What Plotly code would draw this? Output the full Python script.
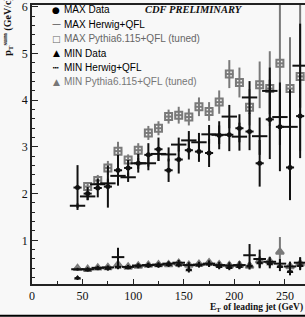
import plotly.graph_objects as go

et = [45, 55, 65, 75, 85, 95, 105, 115, 125, 135, 145, 155, 165, 175, 185, 195, 205, 215, 225, 235, 245, 255, 265]

max_data = [2.13, 2.00, 2.12, 2.15, 2.50, 2.55, 2.65, 2.83, 2.95, 2.50, 2.73, 2.93, 2.90, 2.87, 3.25, 3.26, 3.40, 3.33, 2.65, 3.59, 3.43, 2.56, 3.66]
max_data_err = [0.48, 0.14, 0.20, 0.45, 0.33, 0.17, 0.20, 0.25, 0.25, 0.25, 0.30, 0.20, 0.22, 0.30, 0.30, 0.35, 0.30, 0.40, 0.50, 0.85, 0.95, 0.70, 0.90]

max_herwig = [1.74, 1.94, 2.20, 2.22, 2.38, 2.35, 2.65, 2.65, 2.85, 2.84, 3.05, 3.14, 3.10, 3.27, 3.26, 3.65, 3.22, 4.06, 3.23, 4.20, 3.64, 3.43, 4.74]
max_herwig_err = [0.05, 0.08, 0.10, 0.10, 0.10, 0.10, 0.12, 0.15, 0.15, 0.15, 0.15, 0.20, 0.20, 0.20, 0.20, 0.25, 0.30, 0.35, 0.40, 0.50, 0.60, 0.80, 0.90]

max_pythia = [None, 2.15, 2.28, 2.55, 2.91, 2.72, 2.93, 3.30, 3.40, 3.65, 3.68, 3.64, 3.86, 3.76, 3.96, 4.56, 4.38, 3.85, 4.33, 4.25, 4.79, 4.25, 4.51]
max_pythia_err = [0, 0.08, 0.12, 0.15, 0.20, 0.12, 0.15, 0.15, 0.15, 0.15, 0.18, 0.18, 0.20, 0.20, 0.25, 0.30, 0.32, 0.39, 0.50, 0.80, 1.45, 1.10, 1.60]

min_data = [0.19, 0.37, 0.40, 0.40, 0.43, 0.42, 0.45, 0.46, 0.46, 0.48, 0.47, 0.37, 0.47, 0.49, 0.44, 0.42, 0.44, 0.45, 0.52, 0.50, 0.44, 0.33, 0.46]
min_data_err = [0.04, 0.04, 0.04, 0.05, 0.05, 0.04, 0.05, 0.05, 0.05, 0.05, 0.05, 0.06, 0.05, 0.06, 0.06, 0.06, 0.06, 0.07, 0.10, 0.10, 0.10, 0.08, 0.10]

min_herwig = [0.38, 0.38, 0.41, 0.42, 0.64, 0.43, 0.46, 0.47, 0.48, 0.50, 0.52, 0.47, 0.48, 0.50, 0.47, 0.46, 0.47, 0.68, 0.60, 0.54, 0.50, 0.44, 0.52]
min_herwig_err = [0.03, 0.03, 0.03, 0.04, 0.20, 0.04, 0.04, 0.05, 0.05, 0.05, 0.06, 0.06, 0.06, 0.07, 0.07, 0.07, 0.08, 0.24, 0.20, 0.10, 0.10, 0.10, 0.12]

min_pythia = [0.40, 0.38, 0.41, 0.42, 0.48, 0.43, 0.45, 0.47, 0.48, 0.48, 0.51, 0.47, 0.49, 0.52, 0.48, 0.46, 0.47, 0.45, 0.56, 0.55, 0.75, 0.44, 0.50]
min_pythia_err = [0.03, 0.03, 0.03, 0.03, 0.04, 0.04, 0.04, 0.04, 0.05, 0.05, 0.05, 0.05, 0.05, 0.06, 0.06, 0.06, 0.07, 0.08, 0.10, 0.10, 0.32, 0.10, 0.12]

legend_labels = ["MAX Data", "MAX Herwig+QFL", "MAX Pythia6.115+QFL (tuned)",
                 "MIN Data", "MIN Herwig+QFL", "MIN Pythia6.115+QFL (tuned)"]
legend_symbols = ["●", "—", "□", "▲", "┅", "▲"]
legend_colors = ["#000000", "#000000", "#666666", "#000000", "#000000", "#777777"]

BLACK = "#111111"
GRAY = "#7a7a7a"

fig = go.Figure()


def add(y, err, color, symbol, size, lw, xerr):
    fig.add_trace(go.Scatter(
        x=et, y=y, mode="markers",
        marker=dict(symbol=symbol, size=size, color=color,
                    line=dict(color=color, width=lw)),
        error_y=dict(type="data", array=err, color=color, thickness=2, width=0),
        error_x=dict(type="constant", value=xerr, color=color, thickness=2, width=0),
        showlegend=False, cliponaxis=True))


# Pythia (gray) first, then Herwig, then data on top
add(max_pythia, max_pythia_err, GRAY, "square-open", 7, 2, 4)
add(min_pythia, min_pythia_err, GRAY, "triangle-up-open", 7, 2, 3)
add(max_herwig, max_herwig_err, BLACK, "line-ew", 11, 2, 0)
add(min_herwig, min_herwig_err, BLACK, "line-ew", 9, 2, 0)
add(max_data, max_data_err, BLACK, "circle", 5, 0, 4)
add(min_data, min_data_err, BLACK, "triangle-up", 6, 0, 3)

L, T, PW, PH = 32, 3, 273, 281


def px(xp):
    return (xp - L) / PW


def py(yp):
    return (T + PH - yp) / PH


annotations = []
for i, (lab, sym, col) in enumerate(zip(legend_labels, legend_symbols, legend_colors)):
    yp = 8 + i * 14.5
    annotations.append(dict(x=px(56), y=py(yp), xref="paper", yref="paper",
                            text=sym, showarrow=False, xanchor="center", yanchor="middle",
                            font=dict(family="DejaVu Sans", size=9, color=col)))
    annotations.append(dict(x=px(62), y=py(yp), xref="paper", yref="paper",
                            text=lab, showarrow=False, xanchor="left", yanchor="middle",
                            font=dict(family="Liberation Sans", size=10, color=col)))

annotations.append(dict(x=px(143), y=py(8), xref="paper", yref="paper",
                        text="<b><i>CDF PRELIMINARY</i></b>", showarrow=False,
                        xanchor="left", yanchor="middle",
                        font=dict(family="Liberation Serif", size=10.5, color="#111")))
annotations.append(dict(x=1.0, y=py(308), xref="paper", yref="paper",
                        text="<b>E<sub>T</sub> of leading jet (GeV)</b>", showarrow=False,
                        xanchor="right", yanchor="middle",
                        font=dict(family="Liberation Serif", size=9.5, color="#111")))
annotations.append(dict(x=px(8), y=py(24), xref="paper", yref="paper",
                        text="<b>p<sub>T</sub><sup>sum</sup> (GeV/c)</b>", showarrow=False,
                        textangle=-90, xanchor="center", yanchor="middle",
                        font=dict(family="Liberation Serif", size=10, color="#111")))

fig.update_layout(
    width=305, height=317,
    margin=dict(l=L, r=0, t=T, b=317 - T - PH),
    paper_bgcolor="#f8f8f8", plot_bgcolor="#f8f8f8",
    showlegend=False,
    annotations=annotations,
    shapes=[dict(type="line", xref="paper", yref="paper", x0=px(0), x1=1.0,
                 y0=py(316), y1=py(316), line=dict(color="#000", width=2))],
    xaxis=dict(range=[0, 269.8], showgrid=False, zeroline=False,
               showline=True, linecolor="#222", linewidth=1.5, mirror=True,
               ticks="inside", ticklen=5, tickwidth=1, tickcolor="#222",
               tick0=0, dtick=50, ticklabeloverflow="allow",
               minor=dict(ticks="inside", ticklen=3, dtick=25, tickcolor="#222"),
               tickfont=dict(family="Liberation Serif", size=12, color="#111")),
    yaxis=dict(range=[0.064, 6.04], showgrid=False, zeroline=False,
               showline=True, linecolor="#222", linewidth=1.5,
               ticks="inside", ticklen=6, tickwidth=1, tickcolor="#222",
               tick0=0, dtick=1, ticklabeloverflow="allow",
               minor=dict(ticks="inside", ticklen=3, dtick=0.2, tickcolor="#222"),
               tickfont=dict(family="Liberation Serif", size=12, color="#111")),
)

fig.write_html("out.html", config={"displayModeBar": False},
               post_script="document.body.style.margin='0';document.body.style.overflow='hidden';")
